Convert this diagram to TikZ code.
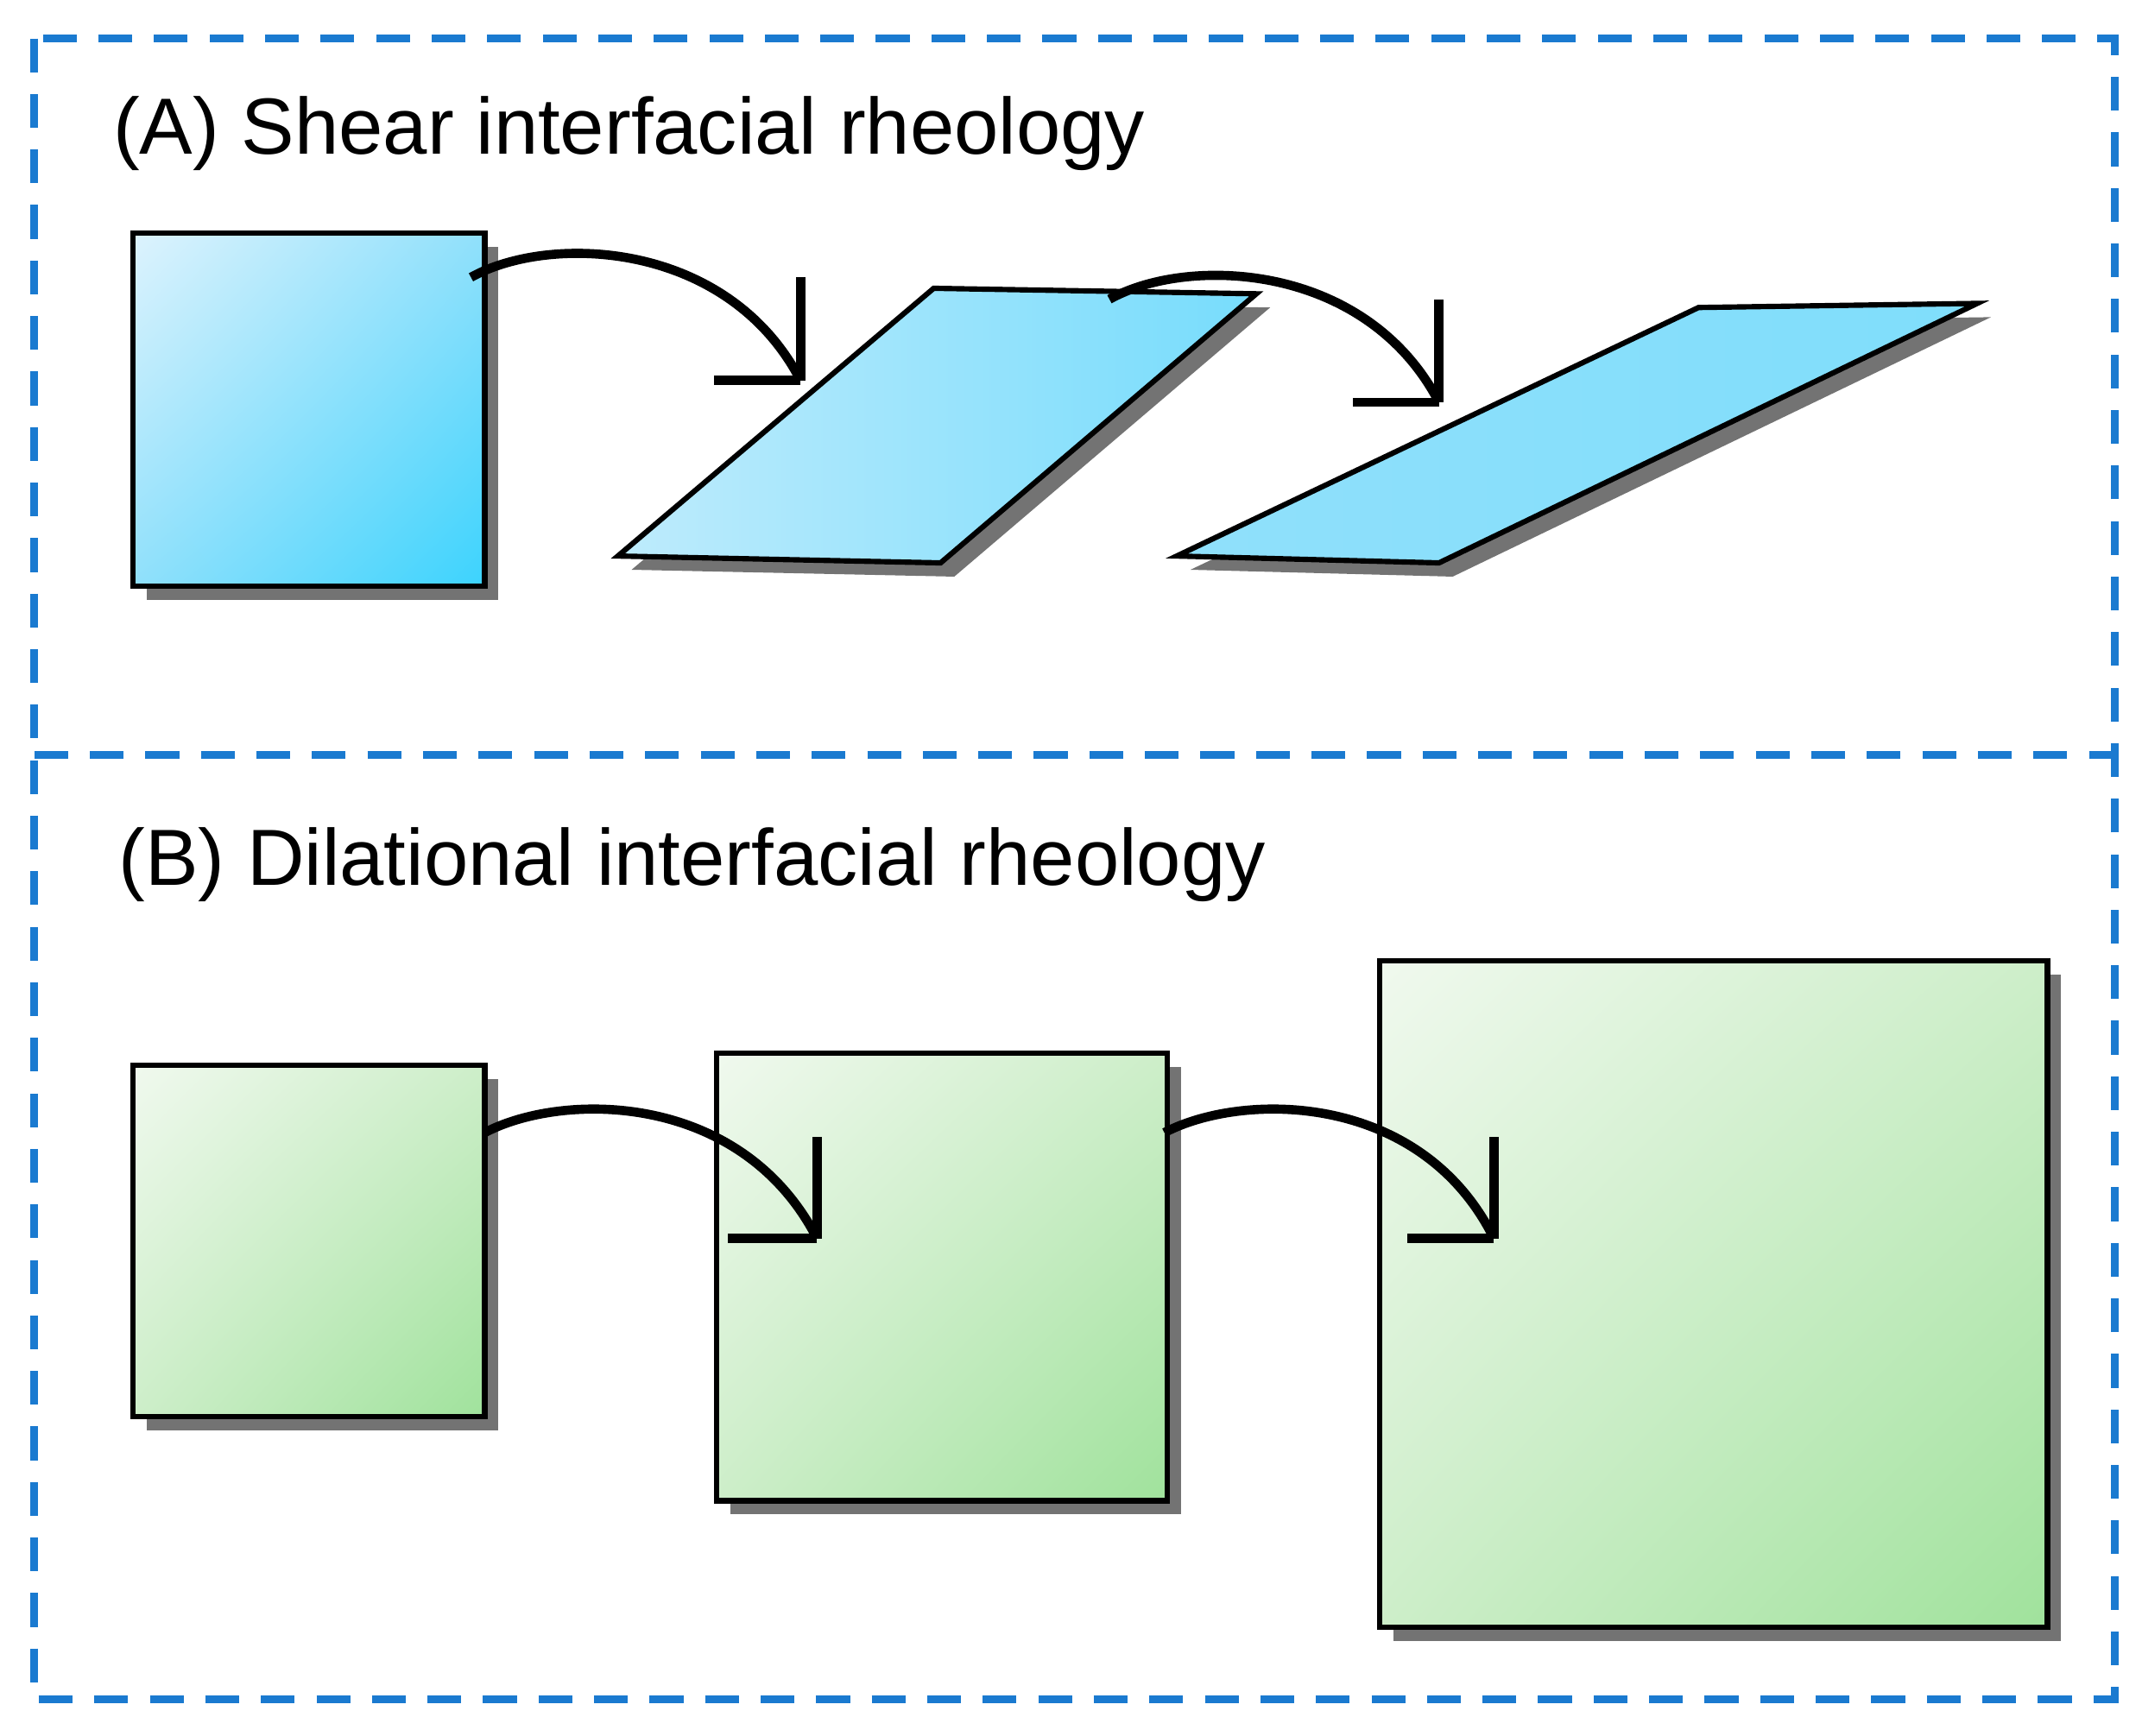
\documentclass[tikz,border=0pt]{standalone}
\usepackage{fontspec}
\setmainfont{Liberation Sans}
\usetikzlibrary{positioning,shadows,shadings}
\definecolor{frameblue}{HTML}{1A7AD0}
\definecolor{bluelight}{HTML}{DDF3FD}
\definecolor{bluedark}{HTML}{3CD3FD}
\definecolor{bluemid}{HTML}{90E0FB}
\definecolor{greenlight}{HTML}{F0F9EE}
\definecolor{greendark}{HTML}{A0E29C}
\definecolor{greenmid}{HTML}{CDEEC9}
\begin{document}
\begin{tikzpicture}[x=0.01cm,y=-0.01cm]
\tikzstyle{frame}=[frameblue,line width=1.6pt,dash pattern=on 7pt off 4.5pt]
\tikzstyle{title}=[anchor=west,font=\fontsize{16.5}{19}\selectfont]
\tikzstyle{shadowed}=[drop shadow={shadow xshift=0.1cm,shadow yshift=-0.1cm,fill=black!55,opacity=1}]
\tikzstyle{bluebox}=[draw=black,line width=1.1pt,inner sep=0pt,upper left=bluelight,upper right=bluemid,lower left=bluemid,lower right=bluedark]
\tikzstyle{greenbox}=[draw=black,line width=1.1pt,inner sep=0pt,upper left=greenlight,upper right=greenmid,lower left=greenmid,lower right=greendark]
\tikzstyle{turn}=[line width=1.9pt]

\useasboundingbox (0,0) rectangle (1560,1264);

% frames
\draw[frame] (25,28) rectangle (1540,1238);
\draw[frame] (25,550) -- (1540,550);

\node[title] (ta) at (70,97) {(A) Shear interfacial rheology};
\node[title] (tb) at (74,630) {(B) Dilational interfacial rheology};

% shear
\node[bluebox,shadowed,minimum width=2.56cm,minimum height=2.57cm] (sq1) at (225,298.5) {};
\fill[black!55] (460,415) -- (690,220) -- (925,224) -- (695,420) -- cycle;
\shade[draw=black,line width=1.1pt,shading angle=-45,left color=bluelight!60!bluemid,right color=bluemid!70!bluedark]
  (450,405) coordinate (p1) -- (680,210) -- (915,214) -- (685,410) -- cycle;
\fill[black!55] (867,415) -- (1247,234) -- (1450,231) -- (1058,420) -- cycle;
\shade[draw=black,line width=1.1pt,shading angle=-45,left color=bluemid,right color=bluemid!80!bluedark]
  (857,405) coordinate (p2) -- (1237,224) -- (1440,221) -- (1048,410) -- cycle;

\coordinate (s1) at (343,202);
\coordinate (e1) at (583,277);
\coordinate (s2) at (808,218);
\coordinate (e2) at (1048,293);
\draw[turn] (s1) .. controls (400,170) and (530,175) .. (e1);
\draw[turn] (e1) -- ++(0,-75) (e1) -- ++(-63,0);
\draw[turn] (s2) .. controls (865,186) and (995,191) .. (e2);
\draw[turn] (e2) -- ++(0,-75) (e2) -- ++(-63,0);

% dilational
\node[greenbox,shadowed,minimum width=2.56cm,minimum height=2.56cm] (gs1) at (225,904) {};
\node[greenbox,shadowed,minimum width=3.28cm,minimum height=3.26cm] (gs2) at (686,930) {};
\node[greenbox,shadowed,minimum width=4.86cm,minimum height=4.85cm] (gs3) at (1248,942.5) {};

\coordinate (s3) at (353,825);
\coordinate (e3) at (595,902);
\coordinate (s4) at (848,825);
\coordinate (e4) at (1088,902);
\draw[turn] (s3) .. controls (410,795) and (540,795) .. (e3);
\draw[turn] (e3) -- ++(0,-74) (e3) -- ++(-65,0);
\draw[turn] (s4) .. controls (905,795) and (1035,795) .. (e4);
\draw[turn] (e4) -- ++(0,-74) (e4) -- ++(-63,0);
\end{tikzpicture}
\end{document}
